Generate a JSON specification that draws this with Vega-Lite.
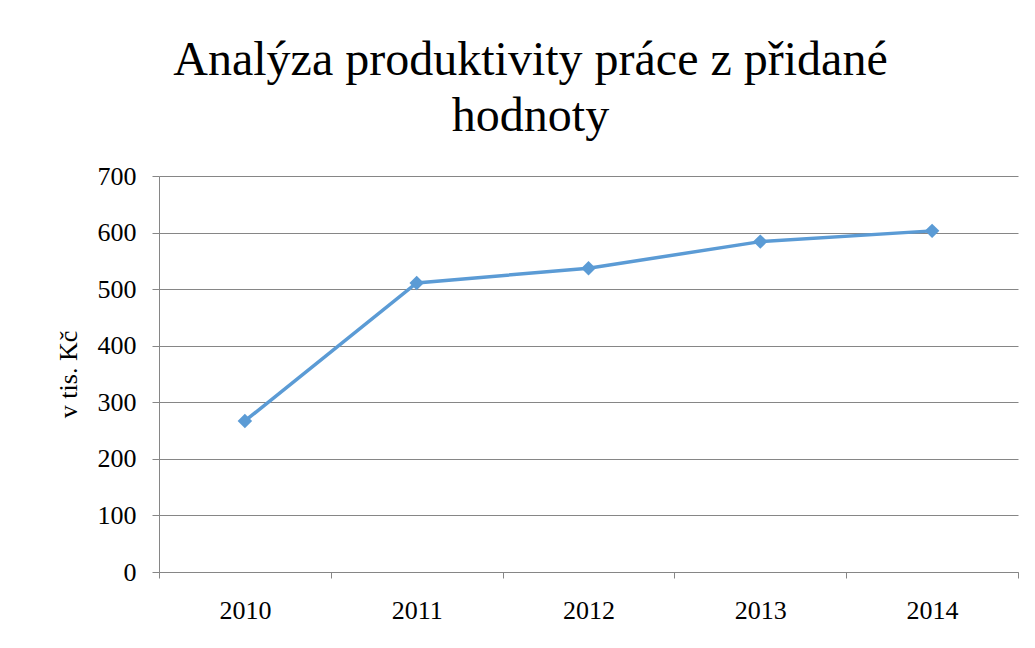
{
  "$schema": "https://vega.github.io/schema/vega-lite/v6.json",
  "autosize": {"type": "none"},
  "padding": {"left": 159, "top": 176, "right": 17, "bottom": 76},
  "width": 859,
  "height": 396,
  "background": "white",
  "config": {
    "font": "Liberation Serif",
    "view": {"stroke": null}
  },
  "title": {
    "text": ["Analýza produktivity práce z přidané", "hodnoty"],
    "font": "Liberation Serif",
    "fontSize": 48,
    "fontWeight": "normal",
    "color": "#000000",
    "anchor": "middle",
    "dx": -58,
    "lineHeight": 56,
    "offset": 22
  },
  "data": {
    "values": [
      {"rok": "2010", "hodnota": 267},
      {"rok": "2011", "hodnota": 511},
      {"rok": "2012", "hodnota": 537},
      {"rok": "2013", "hodnota": 584},
      {"rok": "2014", "hodnota": 603}
    ]
  },
  "encoding": {
    "x": {
      "field": "rok",
      "type": "ordinal",
      "scale": {"type": "band", "paddingInner": 0, "paddingOuter": 0},
      "axis": {
        "title": null,
        "labelAngle": 0,
        "labelFont": "Liberation Serif",
        "labelFontSize": 26,
        "labelColor": "#000000",
        "labelPadding": 19,
        "tickBand": "extent",
        "tickSize": 6,
        "tickColor": "#868686",
        "domainColor": "#868686",
        "domainWidth": 1,
        "grid": false
      }
    },
    "y": {
      "field": "hodnota",
      "type": "quantitative",
      "scale": {"domain": [0, 700], "nice": false},
      "axis": {
        "title": "v tis. Kč",
        "titleFont": "Liberation Serif",
        "titleFontSize": 26,
        "titleFontWeight": "normal",
        "titleColor": "#000000",
        "titlePadding": 16,
        "values": [0, 100, 200, 300, 400, 500, 600, 700],
        "labelFont": "Liberation Serif",
        "labelFontSize": 26,
        "labelColor": "#000000",
        "labelPadding": 16,
        "tickSize": 7,
        "tickColor": "#868686",
        "domainColor": "#868686",
        "gridColor": "#868686",
        "grid": true
      }
    }
  },
  "layer": [
    {"mark": {"type": "line", "color": "#5B9BD5", "strokeWidth": 3.5}},
    {"mark": {"type": "point", "shape": "diamond", "filled": true, "color": "#5B9BD5", "opacity": 1, "size": 210}}
  ]
}
